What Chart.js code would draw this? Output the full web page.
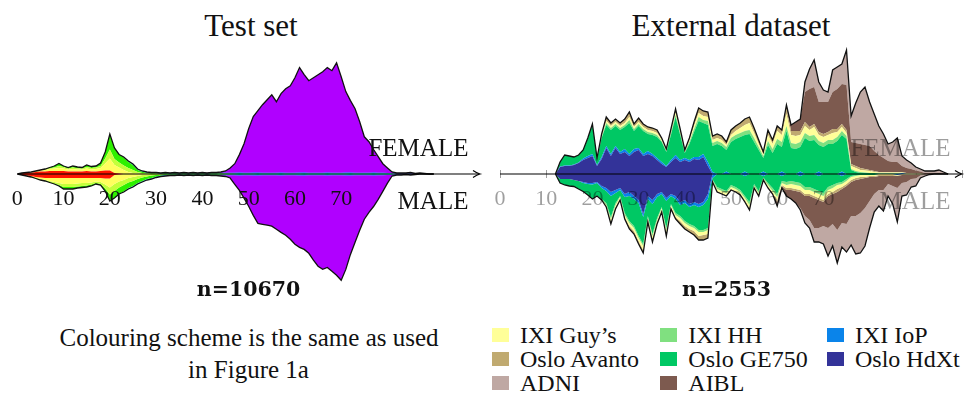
<!DOCTYPE html>
<html>
<head>
<meta charset="utf-8">
<title>Test set / External dataset</title>
<script src="https://cdn.jsdelivr.net/npm/chart.js@4.4.1/dist/chart.umd.min.js"></script>
<style>
  body { margin: 0; background: #fff; }
  #page { position: relative; width: 966px; height: 395px; overflow: hidden; font-family: "Liberation Serif", serif; color: #111; }
  #page canvas { position: absolute; }
  .t { position: absolute; line-height: 1; white-space: nowrap; transform: translateX(-50%); }
  .title { font-size: 31px; }
  .count { font-family: "DejaVu Serif", serif; font-weight: bold; font-size: 20.5px; }
  .note { font-family: "Liberation Serif", serif; font-size: 25px; }
  .key { position: absolute; font-size: 24px; line-height: 1; white-space: nowrap; }
  .swatch { position: absolute; width: 17px; height: 14px; }
</style>
</head>
<body>
<div id="page">
  <div class="t title" style="left:251px; top:10px">Test set</div>
  <div class="t title" style="left:731px; top:10px">External dataset</div>
  <canvas id="testSet" width="490" height="250" style="left:0; top:40px"></canvas>
  <canvas id="external" width="476" height="250" style="left:490px; top:40px"></canvas>
  <div class="t count" style="left:248.5px; top:279.4px">n=10670</div>
  <div class="t count" style="left:726.5px; top:279.4px">n=2553</div>
  <div class="t note" style="left:249px; top:325px">Colouring scheme is the same as used</div>
  <div class="t note" style="left:248.5px; top:357.4px">in Figure 1a</div>
  <div id="legend"></div>
</div>
<script>
// age bins (years) on the x axis
const AGES_L = Array.from({ length: 91 }, (_, i) => i);
const AGES_R = Array.from({ length: 86 }, (_, i) => i + 12);
const TICKS_SHOWN = 70; // labels stop at 70, FEMALE/MALE sit further right

// ---- Test set: layers from the axis outwards (from = first age of v) ----
const LEFT_COLOURS = ['#ff1500', '#ffff5e', '#c4ff3a', '#2ef000', '#00e5c8', '#0030ff', '#b000ff'];

const L_F_RED  = { from: 1, v: [0.8,1,1.2,2,2.5,2.5,3,3,3,3,2.5,2.5,2.5,2.5,3,2.5,2.5,3,3.5,3.5,1,0.5] };
const L_F_YEL  = { from: 3, v: [0.5,1,1,1.5,2,2.5,3,2.5,2,2.5,2,2,2.5,2,2.5,3,7,12,8,6,4,2,1,0.5] };
const L_F_LIME = { from: 5, v: [0.3,0.5,0.7,1,2,1.5,1,1.5,1.2,1,1.5,1.5,1.5,2,5,9,6,5,4.5,4,3,1.5,1,0.5,0.3,0.2] };
const L_F_GRN  = { from: 1, v: [0.2,0.5,0.3,0,0.2,0.5,0.8,1.5,2.5,1,1,1.5,1.3,1,2,1.5,1.5,3,6.5,15.5,11,8,8,6,4.8,2,1.2,0.8,0.6,0.6,
                                0.3,0.4,0.3,0.4,0.3,0.4,0.3,0.4,0.3,0.4,0.3,0.4,0.4,0.4,0.3,0.2] };
const L_F_CYAN = { from: 23, v: [0.3,0.5,0.6,0.5,0.4,0.3,0.3,0.3,
                                 0.3,0.4,0.3,0.4,0.3,0.4,0.3,0.4,0.3,0.4,0.3,0.4,0.4,0.4,0.5,0.6,
                                 0.8,0.9,0.8,0.7,0.8,0.9,0.8,0.8,0.7,0.8,0.9,0.8,0.8,0.7,0.8,0.9,0.8,0.8,0.7,0.8,
                                 0.9,0.8,0.8,0.7,0.8,0.9,0.8,0.8,0.7,0.8,0.9,0.8,0.8,0.7,
                                 0.4,0.2,0.2,0.2,0.3,0.1,0.2,0.1] };
const L_F_BLUE = { from: 23, v: [0.2,0.5,0.6,0.5,0.4,0.3,0.2,0.3,
                                 0.2,0.3,0.2,0.3,0.2,0.3,0.2,0.3,0.2,0.3,0.2,0.3,0.3,0.4,0.4,0.4,
                                 0.5,0.5,0.4,0.5,0.6,0.5,0.5,0.4,0.5,0.5,0.5,0.5,0.4,0.5,0.6,0.5,0.5,0.4,0.5,0.5,
                                 0.5,0.5,0.4,0.5,0.6,0.5,0.5,0.4,0.5,0.5,0.6,0.5,0.5,0.4,
                                 0.3,0.2,0.2,0.2,0.3,0.1,0.2,0.1] };
const L_F_PURP = { from: 28, v: [0.1,0.1,0.1,0.2,0.4,0.2,0.4,0.2,0.4,0.2,0.4,0.2,0.4,0.2,0.4,0.4,0.8,1.8,4.8,
                                 9,18,29,44,56,62,68,73,78,71,79,84,87,95,105,98,92,95,98,101,105,102,110,96,
                                 81,72,64,51,36,31,23,16,9,5,1.3,0.6,0.6,0.6,0.9,0.3,0.6,0.3] };

const L_M_RED  = { from: 1, v: [0.8,1.5,2,3,3.5,4,4,4,4,4,4,4,4,4,4,4,4,4,4.5,4.5,1,0.5] };
const L_M_YEL  = { from: 3, v: [0.5,1,1.5,2,3,4,5,6,6,6,5.5,5,5,4.5,3.5,4,6,9,9,7,6,4,3,2,1,0.5] };
const L_M_LIME = { from: 5, v: [0.5,0.5,1,1.5,2,3,3,3,3,3,2.5,2,1.5,2,4,7,7,6,5,4.5,4,3,2.5,2,1.5,1,0.5] };
const L_M_GRN  = { from: 1, v: [0.2,0.5,0.5,0.5,0.5,0.5,0.5,0.5,1,2,2,2,1.5,1.5,1.5,1.5,1,1,2.5,
                                6.5,7,6.2,6.4,5.6,5,4,3.5,2.5,2.5,1.5,1,0.8,0.5,0.5,0.3,0.5,0.3,0.5,0.3,
                                0.5,0.3,0.5,0.5,0.4,0.3,0.2] };
const L_M_CYAN = { from: 22, v: [0.2,0.4,0.5,0.5,0.5,0.5,0.5,0.5,0.5,0.5,0.5,
                                 0.4,0.4,0.3,0.4,0.3,0.4,0.3,0.4,0.3,0.4,0.4,0.4,0.5,0.6,
                                 0.8,0.9,0.8,0.7,0.8,0.9,0.8,0.8,0.7,0.8,0.9,0.8,0.8,0.7,0.8,0.9,0.8,0.8,0.7,0.8,
                                 0.9,0.8,0.8,0.7,0.8,0.9,0.8,0.8,0.7,0.8,0.9,0.8,0.8,0.7,
                                 0.4,0.2,0.2,0.1,0.2,0.1] };
const L_M_BLUE = { from: 22, v: [0.1,0.2,0.4,0.5,0.5,0.5,0.4,0.4,0.4,0.4,0.4,
                                 0.3,0.3,0.2,0.3,0.2,0.3,0.2,0.3,0.2,0.3,0.3,0.4,0.4,0.5,
                                 0.5,0.5,0.4,0.5,0.6,0.5,0.5,0.4,0.5,0.5,0.5,0.5,0.4,0.5,0.6,0.5,0.5,0.4,0.5,0.5,
                                 0.5,0.5,0.4,0.5,0.6,0.5,0.5,0.4,0.5,0.5,0.6,0.5,0.5,0.4,
                                 0.3,0.2,0.2,0.1,0.2,0.1] };
const L_M_PURP = { from: 28, v: [0.1,0.1,0.1,0.1,0.3,0.3,0.3,0.2,0.3,0.2,0.3,0.2,0.3,0.2,0.3,0.3,0.8,1.3,2.7,
                                 9,15,23,31,40,48,49,50,51,54,57,60,64,69,72,74,78,85,91,94,92,96,100,105,94,
                                 79,67,55,44,37,31,24,16,8,1.3,0.6,0.6,0.3,0.6,0.3] };

// ---- External dataset: scanners from the axis outwards ----
const SITES = ['Oslo HdXt', 'IXI IoP', 'Oslo GE750', 'IXI HH', 'IXI Guy’s', 'Oslo Avanto', 'AIBL', 'ADNI'];
const SITE_COLOURS = ['#333399', '#0a84ea', '#00c864', '#80e080', '#ffff99', '#c0aa70', '#7d5a4f', '#bfa8a3'];

const R_F_HDXT = { from: 12, v: [0,7,8,8,9,11,14,16,18,8,15,26,18,26,20,22,18,22,24,18,20,18,14,10,7,12,16,12,14,12,15,14,17,8] };
const R_F_IOP  = { from: 12, v: [0,0.5,0.5,0.5,0.5,0.5,1.5,2,2,1, 2,2,2,2,2,3,2,3,2,2, 3,2,2,2,1,2,3,2,2,2,
                                 2,3,3,4,2,0,0,2.5,0,0, 0,2.5,0,0,0,2.5,0,0,0,2.5, 0,0,0,2.5,0,0,0,2.5,0,0,
                                 0,0,2.5,0,0,0,0,0,0,0, 0,0,0,0,0,1] };
const R_F_GE   = { from: 12, v: [0,4.5,10.5,9.5,7.5,7.5,8.5,17.5,29.5,6.5, 19,21,24,20,22,22,31,18,22,23,
                                 17,19,21,20,14,25,38,25,5,16, 25,36,31,37,26,30,28,21.5,32,35,
                                 37,36.5,40,32,24,13.5,29,21,30,24.5, 43,26,25,24.5,36,33,34,26.5,27,30,
                                 30,33,36.5,35,4,2,1,1,1,1, 0.5,0.5,0.5,0.5,0.5] };
const R_F_HH   = { from: 19, v: [0.5,0.5,0.5, 1,2,2,2,2,2,3,2,2,2, 2,2,2,1,1,2,2,2,1,2, 3,4,3,4,3,3,3,3,4,4,
                                 4,4,4,4,3,2,4,4,5,5, 5,5,5,5,5,5,5,4,4,4, 4,4,4,3,1,1,1,0.5] };
const R_F_GUY  = { from: 22, v: [1,2,2,2,2,2,3,2,2,2, 2,2,2,1,1,2,3,2,1,2, 3,4,4,4,3,3,3,2,3,4,
                                 5,6,7,5,3,2,6,5,8,7, 12,8,8,7,7,6,8,6,6,5, 7,5,4,3,3,3,2,2,2,1,
                                 1,1,1,1,1,0.5,0.5,0.5,0.5,0.5] };
const R_F_AV   = { from: 22, v: [2,4,3,3,3,4,5,3,4,3, 3,3,3,2,1,2,3,2,1,2, 4,5,5,5,4,4,4,3,5,5,
                                 5,6,6,5,4,2,5,4,5,4, 6,4,5,4,4,3,3,3,3,3, 4,3,3,3,2,2,2,1.5,1,1,
                                 0.5,0.5,0.5,0.5,0.5,0.5,0.5,0.5] };
const R_F_AIBL = { from: 61, v: [1,3,6,9,12,30,38,37,30,32, 30,37,40,40,45,22,23,24,24,24,
                                 20,17,14,11,10,10,6,5,4,3, 2,1,1,1,1,0.5] };
const R_F_ADNI = { from: 66, v: [10,20,27,20,12,10,22,22,20,35, 26,40,52,58,44,37,29,24,17,20,
                                 24,10,8,6,3.5,2.5,2,2,2,3,1.5] };

const R_M_HDXT = { from: 13, v: [5,5,5,6,7,8,9,9,8, 12,14,18,16,14,20,18,22,26,40, 22,26,20,18,24,20,22,28,26,30, 28,30,28,20] };
const R_M_IOP  = { from: 18, v: [1,1,1.5,1, 2,3,4,3,2,3,4,3,3,3, 3,4,3,2,3,2,3,3,3,3, 3,3,3,5,4,0,0,0,0,0,
                                 0,2,0,0,0,2,0,0,0,2, 0,0,0,2,0,0,0,2,0,0, 0,0,2,0,0,0,0,0,0,0, 0,0,0,0,1] };
const R_M_GE   = { from: 13, v: [4,6,7,6.5,8,8.5,11,14,12.5, 11,12,21,10,6,16,25,27,33,27, 17,30,21,13,27,8,14,11,18,17,
                                 21,23,25,29,1.5,13,15,17,11,13, 16,20,28,10,17,1.5,9,14,20,5,
                                 8,7,8,7,13,13,15,15,19,13, 11,9,6,5,2,1,1,1,1,1] };
const R_M_HH   = { from: 20, v: [0.5,0.5, 1,2,2,2,1,2,2,2,2,2, 2,2,2,1,2,1,2,2,2,2, 2,2,2,2,1,2,2,2,2,2,
                                 2,2,3,2,2,1,2,3,3,2, 3,3,3,3,3,3,3,3,3,3, 3,2,2,2,1,1] };
const R_M_GUY  = { from: 23, v: [2,3,2,2,2,3,3,3,4, 2,3,2,2,3,2,2,3,3,3, 3,4,3,4,1,2,2,2,2,2,
                                 2,2,3,1,2,1,2,2,3,2, 3,4,4,4,4,4,4,4,4,4, 4,4,3,3,3,2,2,2,1,1,
                                 1,1,1,1,0.5,0.5,0.5,0.5,0.5,0.5] };
const R_M_AV   = { from: 24, v: [2,2,1,2,3,3,3,3, 2,3,2,2,3,2,2,3,3,3, 4,4,5,4,0.5,1,1,1,1,1,
                                 1,2,2,1,1,0.5,1,1,2,1, 2,2,2,2,2,2,2,2,2,2, 2,3,2,2,2,2,2,1,1,1,
                                 1,1,1,1,0.5,0.5,0.5,0.5] };
const R_M_AIBL = { from: 60, v: [4,2,6,9,12,16,20,24,30,28, 24,32,30,38,34,38,34,36,34,30,
                                 24,17,14,14,8,10,12,8,7,4, 4,1,0.5] };
const R_M_ADNI = { from: 65, v: [2,7,8,14,14, 18,28,22,33,24,28,29,38,40,38,
                                 27,18,16,21,12,18,34,13,13,8, 7.5,2.5,1.5,0.5] };

// legend, three columns, row by row
const LEGEND_ORDER = ['IXI Guy’s', 'IXI HH', 'IXI IoP', 'Oslo Avanto', 'Oslo GE750', 'Oslo HdXt', 'ADNI', 'AIBL'];

// spread a {from, v} series over the age bins (zero outside)
function spread(s, ages) {
  return ages.map(a => {
    const k = a - s.from;
    return k >= 0 && k < s.v.length ? s.v[k] : 0;
  });
}

function layers(ages, colours, female, male) {
  const sets = [];
  [[female, 'f', 1], [male, 'm', -1]].forEach(([list, stack, sign]) => {
    list.forEach((s, i) => {
      const outer = i === list.length - 1;
      sets.push({
        data: spread(s, ages).map(v => sign * v),
        stack: stack,
        backgroundColor: colours[i],
        borderColor: outer ? '#111' : 'rgba(0,0,0,0)',
        borderWidth: outer ? 1.3 : 0,
        fill: i === 0 ? 'origin' : '-1',
        pointRadius: 0,
        tension: 0
      });
    });
  });
  return sets;
}

// arrowed age axis, FEMALE / MALE labels, optional tick marks (under the areas)
const axisArrow = {
  id: 'axisArrow',
  beforeDraw(chart, args, opts) {
    if (!opts.marks) return;
    const { ctx, scales: { x, y } } = chart;
    const y0 = y.getPixelForValue(0);
    ctx.save();
    ctx.strokeStyle = opts.colour;
    ctx.lineWidth = 1;
    for (let v = 0; v <= 100; v += 10) {
      const px = Math.round(x.getPixelForValue(v)) + 0.5;
      ctx.beginPath();
      ctx.moveTo(px, y0 - 4);
      ctx.lineTo(px, y0 + 4);
      ctx.stroke();
    }
    ctx.restore();
  },
  afterDatasetsDraw(chart, args, opts) {
    const { ctx, scales: { x, y } } = chart;
    const y0 = y.getPixelForValue(0);
    const x0 = x.getPixelForValue(0);
    const x1 = x.getPixelForValue(100);
    ctx.save();
    ctx.strokeStyle = '#000';
    ctx.lineWidth = 1.2;
    ctx.beginPath();
    ctx.moveTo(x0, y0);
    ctx.lineTo(x1 - 1, y0);
    ctx.stroke();
    ctx.beginPath();
    ctx.moveTo(x1 - 7, y0 - 3.5);
    ctx.quadraticCurveTo(x1 - 3, y0 - 0.8, x1, y0);
    ctx.quadraticCurveTo(x1 - 3, y0 + 0.8, x1 - 7, y0 + 3.5);
    ctx.stroke();

    ctx.font = '25px "Liberation Serif"';
    ctx.fillStyle = opts.colour;
    ctx.textAlign = 'right';
    ctx.textBaseline = 'alphabetic';
    const xr = x.getPixelForValue(97.5);
    ctx.fillText('FEMALE', xr, y0 - 18);
    ctx.fillText('MALE', xr, y0 + 34.5);
    ctx.restore();
  }
};

function makeChart(id, ages, sets, padLeft, padRight, colour, marks) {
  return new Chart(document.getElementById(id), {
    type: 'line',
    data: { labels: ages, datasets: sets },
    options: {
      responsive: false,
      animation: false,
      events: [],
      layout: { padding: { left: padLeft, right: padRight, top: 0, bottom: 0 } },
      plugins: {
        legend: { display: false },
        tooltip: { enabled: false },
        filler: { drawTime: 'beforeDatasetsDraw' },
        axisArrow: { colour: colour, marks: marks }
      },
      scales: {
        x: {
          type: 'linear',
          min: 0,
          max: 100,
          position: { y: 0 },
          border: { display: false },
          grid: { display: true, drawOnChartArea: false, drawTicks: true, tickLength: 8, color: 'rgba(0,0,0,0)' },
          ticks: {
            stepSize: 10,
            autoSkip: false,
            maxRotation: 0,
            padding: 4,
            z: 1,
            color: colour,
            font: { family: 'Liberation Serif', size: 22 },
            callback: v => (v <= TICKS_SHOWN ? String(v) : '')
          }
        },
        y: { display: false, stacked: true, min: -116, max: 134 }
      }
    },
    plugins: [axisArrow]
  });
}

makeChart('testSet', AGES_L,
  layers(AGES_L, LEFT_COLOURS,
    [L_F_RED, L_F_YEL, L_F_LIME, L_F_GRN, L_F_CYAN, L_F_BLUE, L_F_PURP],
    [L_M_RED, L_M_YEL, L_M_LIME, L_M_GRN, L_M_CYAN, L_M_BLUE, L_M_PURP]),
  17.3, 10, '#111', false);

makeChart('external', AGES_R,
  layers(AGES_R, SITE_COLOURS,
    [R_F_HDXT, R_F_IOP, R_F_GE, R_F_HH, R_F_GUY, R_F_AV, R_F_AIBL, R_F_ADNI],
    [R_M_HDXT, R_M_IOP, R_M_GE, R_M_HH, R_M_GUY, R_M_AV, R_M_AIBL, R_M_ADNI]),
  10, 3, 'rgba(0,0,0,0.38)', true);

// legend (HTML)
const legend = document.getElementById('legend');
const swatchX = [491.7, 660, 826.7];
const textX = [520, 688.3, 855];
const baselines = [342.7, 366.7, 390.7];
LEGEND_ORDER.forEach((name, i) => {
  const row = Math.floor(i / 3), col = i % 3;
  const sw = document.createElement('div');
  sw.className = 'swatch';
  sw.style.left = swatchX[col] + 'px';
  sw.style.top = (baselines[row] - 14.7) + 'px';
  sw.style.background = SITE_COLOURS[SITES.indexOf(name)];
  legend.appendChild(sw);
  const label = document.createElement('div');
  label.className = 'key';
  label.style.left = textX[col] + 'px';
  label.style.top = (baselines[row] - 20.1) + 'px';
  label.textContent = name;
  legend.appendChild(label);
});
</script>
</body>
</html>
